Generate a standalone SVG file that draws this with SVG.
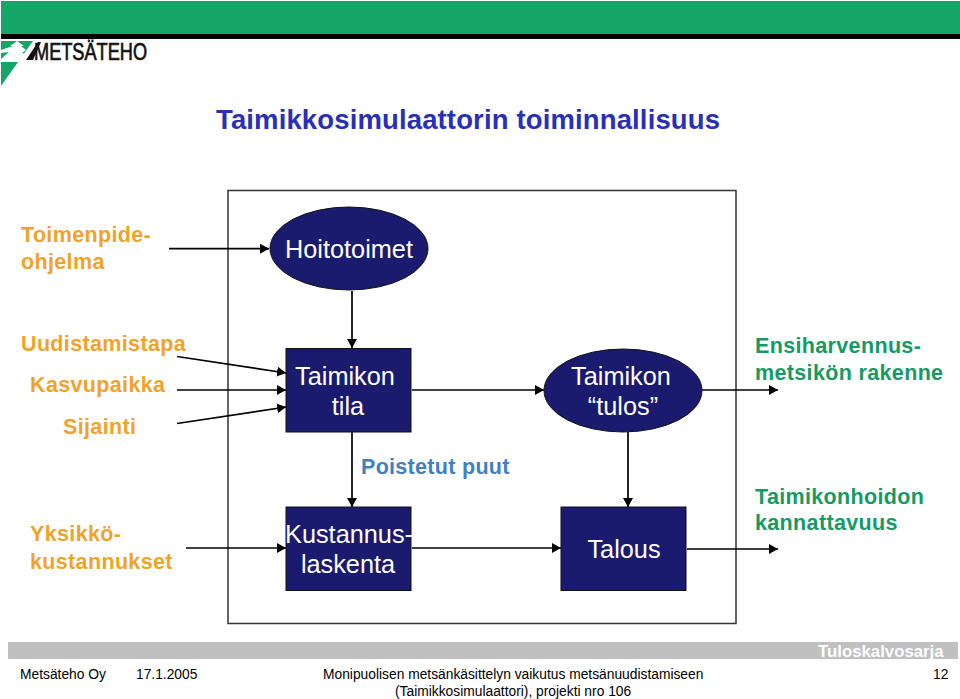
<svg xmlns="http://www.w3.org/2000/svg" width="960" height="699" viewBox="0 0 960 699">
<style>
text{font-family:"Liberation Sans",Arial,sans-serif}
.n{fill:#1a1a6e;stroke:#111;stroke-width:1}
.w{fill:#fff;font-size:25.300px;text-anchor:middle}
.o{fill:#f0a32a;font-size:21.500px;font-weight:bold;letter-spacing:.35px}
.g{fill:#159a63;font-size:21.500px;font-weight:bold;letter-spacing:.35px}
.c{stroke:#000;stroke-width:1.700;fill:none;marker-end:url(#a)}
.f{fill:#000;font-size:13.800px}
</style>
<defs><marker id="a" markerUnits="userSpaceOnUse" markerWidth="10" markerHeight="10" refX="9" refY="5" orient="auto"><path d="M0 0L9 5L0 10z" fill="#000"/></marker></defs>
<rect width="960" height="699" fill="#fff"/>
<g id="header">
<rect x="1" y="1" width="959" height="33" fill="#15a566"/>
<rect x="1" y="34" width="959" height="5" fill="#000"/>
<path d="M1 41H33L1 86z" fill="#15a566"/>
<path d="M17 41L10 46H13L1 50V53L9 52L1 59V62H25L29 55L22 53L26 50L21 46H24z" fill="#fff"/>
<path d="M26 60L38 42H41L33 60z" fill="#111"/>
<text x="34" y="59.500" font-size="24" fill="#111" stroke="#111" stroke-width=".7" textLength="113" lengthAdjust="spacingAndGlyphs">METSÄTEHO</text>
</g>
<text id="title" x="216" y="129" font-size="27.500" font-weight="bold" fill="#2a2fb8" textLength="504">Taimikkosimulaattorin toiminnallisuus</text>
<rect id="frame" x="228" y="190.500" width="508" height="433" fill="none" stroke="#333" stroke-width="1.500"/>
<g id="connectors">
<path class="c" d="M169 248.700H269"/>
<path class="c" d="M352 291V348"/>
<path class="c" d="M177 356.500L286 373"/>
<path class="c" d="M177 390H286"/>
<path class="c" d="M177 423.500L286 407"/>
<path class="c" d="M412 390H544"/>
<path class="c" d="M702 390H778"/>
<path class="c" d="M352 432V507"/>
<path class="c" d="M628 432V507"/>
<path class="c" d="M186 548H286"/>
<path class="c" d="M412 548H561"/>
<path class="c" d="M687 549H778"/>
</g>
<g id="hoitotoimet"><ellipse class="n" cx="349" cy="248.500" rx="79" ry="41.500"/><text class="w" x="349" y="258">Hoitotoimet</text></g>
<g id="tila"><rect class="n" x="286" y="348.500" width="125" height="83.500"/><text class="w" x="345" y="385">Taimikon</text><text class="w" x="348" y="415">tila</text></g>
<g id="tulos"><ellipse class="n" cx="623" cy="390.500" rx="79" ry="41.500"/><text class="w" x="621" y="385">Taimikon</text><text class="w" x="623" y="415">“tulos”</text></g>
<g id="kustannus"><rect class="n" x="286" y="507" width="125" height="83.500"/><text class="w" x="349" y="542.500">Kustannus-</text><text class="w" x="348" y="573">laskenta</text></g>
<g id="talous"><rect class="n" x="561" y="507" width="125" height="83.500"/><text class="w" x="624" y="558">Talous</text></g>
<g id="labels">
<text class="o" x="21" y="242">Toimenpide-</text><text class="o" x="21" y="269">ohjelma</text>
<text class="o" x="21" y="350.500">Uudistamistapa</text>
<text class="o" x="30" y="392">Kasvupaikka</text>
<text class="o" x="63" y="434">Sijainti</text>
<text class="o" x="30" y="541">Yksikkö-</text><text class="o" x="30" y="569">kustannukset</text>
<text x="361" y="473.500" font-size="21.500" font-weight="bold" fill="#3f7fc4" letter-spacing=".3">Poistetut puut</text>
<text class="g" x="755" y="353">Ensiharvennus-</text><text class="g" x="755" y="380">metsikön rakenne</text>
<text class="g" x="755" y="504">Taimikonhoidon</text><text class="g" x="755" y="530">kannattavuus</text>
</g>
<g id="footer">
<rect x="8" y="642" width="950" height="17" fill="#c0c0c0"/>
<text x="818" y="657" font-size="16.800" font-weight="bold" fill="#fff">Tuloskalvosarja</text>
<text class="f" x="20" y="679">Metsäteho Oy</text>
<text class="f" x="136" y="679">17.1.2005</text>
<text class="f" x="323" y="679">Monipuolisen metsänkäsittelyn vaikutus metsänuudistamiseen</text>
<text class="f" x="395" y="696">(Taimikkosimulaattori), projekti nro 106</text>
<text class="f" x="933" y="679">12</text>
</g>
</svg>
